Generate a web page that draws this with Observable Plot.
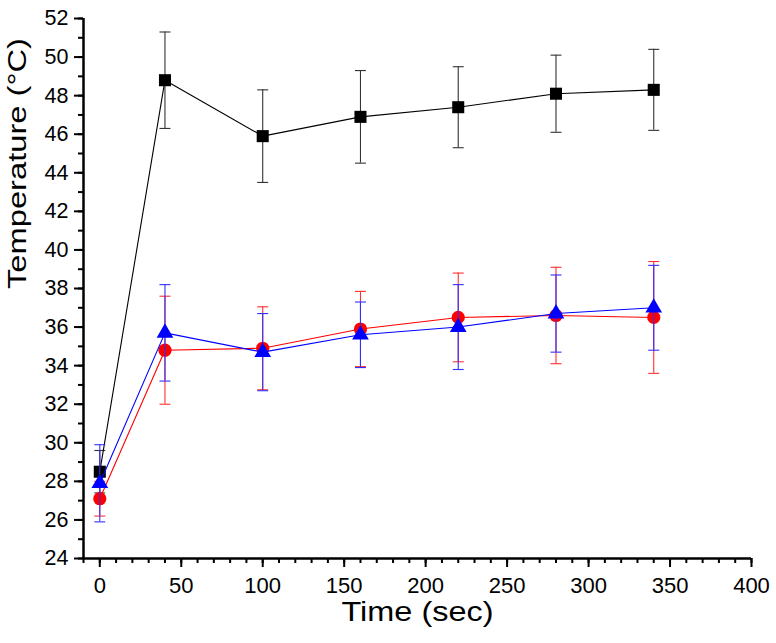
<!DOCTYPE html>
<html><head><meta charset="utf-8">
<script src="https://cdn.jsdelivr.net/npm/d3@7"></script>
<script src="https://cdn.jsdelivr.net/npm/@observablehq/plot@0.6"></script>
<style>body{margin:0;background:#fff}</style>
</head><body><div id="chart"></div>
<script>
const times = [0, 40, 100, 160, 220, 280, 340];
const blackMean = [28.5, 48.8, 45.9, 46.9, 47.4, 48.1, 48.3];
const blackErr  = [1.1, 2.5, 2.4, 2.4, 2.1, 2.0, 2.1];
const redMean   = [27.1, 34.8, 34.9, 35.9, 36.5, 36.6, 36.5];
const redErr    = [0.9, 2.8, 2.15, 1.95, 2.3, 2.5, 2.9];
const blueMean  = [27.9, 35.7, 34.7, 35.6, 36.0, 36.7, 37.0];
const blueErr   = [2.0, 2.5, 2.0, 1.7, 2.2, 2.0, 2.2];
const xMajorTicks = [0, 50, 100, 150, 200, 250, 300, 350, 400];
const yMajorTicks = [24, 26, 28, 30, 32, 34, 36, 38, 40, 42, 44, 46, 48, 50, 52];
const xTitle = "Time (sec)";
const yTitle = "Temperature (°C)";

const capSymbol = {draw(ctx, size) { const w = Math.sqrt(size); ctx.moveTo(-w / 2, 0); ctx.lineTo(w / 2, 0); }};

function rows(means, errs) { return times.map((t, i) => ({t, m: means[i], lo: means[i] - errs[i], hi: means[i] + errs[i]})); }

function series(means, errs, color, barColor, symbol, r) {
  const d = rows(means, errs);
  return [
    Plot.ruleX(d, {x: "t", y1: "lo", y2: "hi", stroke: barColor, strokeWidth: 1.1}),
    Plot.dot(d, {x: "t", y: "lo", symbol: capSymbol, r: 6.2, stroke: barColor, fill: "none", strokeWidth: 1.1}),
    Plot.dot(d, {x: "t", y: "hi", symbol: capSymbol, r: 6.2, stroke: barColor, fill: "none", strokeWidth: 1.1}),
    Plot.line(d, {x: "t", y: "m", stroke: color, strokeWidth: 1.1}),
    Plot.dot(d, {x: "t", y: "m", symbol, r, fill: color, stroke: "none"})
  ];
}

const chart = Plot.plot({
  width: 776, height: 643,
  marginLeft: 83, marginRight: 25, marginTop: 18, marginBottom: 85,
  style: {fontFamily: "'Liberation Sans', Arial, sans-serif", background: "white", overflow: "visible", color: "black"},
  x: {domain: [-10, 400], axis: null},
  y: {domain: [24, 52], axis: null},
  marks: [
    Plot.axisX({ticks: d3.range(-10, 401, 10), tickSize: 5, tickFormat: () => "", strokeWidth: 2, label: null}),
    Plot.axisX({ticks: xMajorTicks, tickSize: 9, tickPadding: 10, fontSize: 22, strokeWidth: 2, label: null}),
    Plot.axisY({ticks: d3.range(24, 53, 1), tickSize: 5, tickFormat: () => "", strokeWidth: 2, label: null}),
    Plot.axisY({ticks: yMajorTicks, tickSize: 9, tickPadding: 6, fontSize: 21.5, strokeWidth: 2, label: null}),
    Plot.ruleX([-10], {strokeWidth: 2.5}),
    Plot.ruleY([24], {strokeWidth: 2.5}),
    ...series(blackMean, blackErr, "black", "#333", "square", 6.8),
    ...series(redMean, redErr, "#ff0000", "#ff3030", "circle", 6.6),
    ...series(blueMean, blueErr, "#0000ff", "#3030ff", "triangle", 6.2),
    Plot.text([xTitle], {text: d => d, frameAnchor: "bottom", dy: 62, fontSize: 27}),
    Plot.text([yTitle], {text: d => d, frameAnchor: "left", textAnchor: "middle", rotate: -90, dx: -66, dy: -125, fontSize: 25})
  ]
});
document.getElementById("chart").appendChild(chart);
d3.select(chart).selectAll("text").each(function() {
  const t = this.textContent;
  if (t === xTitle) { this.setAttribute("textLength", 152); this.setAttribute("lengthAdjust", "spacingAndGlyphs"); }
  if (t === yTitle) { this.setAttribute("textLength", 251); this.setAttribute("lengthAdjust", "spacingAndGlyphs"); }
});
</script>
</body></html>
